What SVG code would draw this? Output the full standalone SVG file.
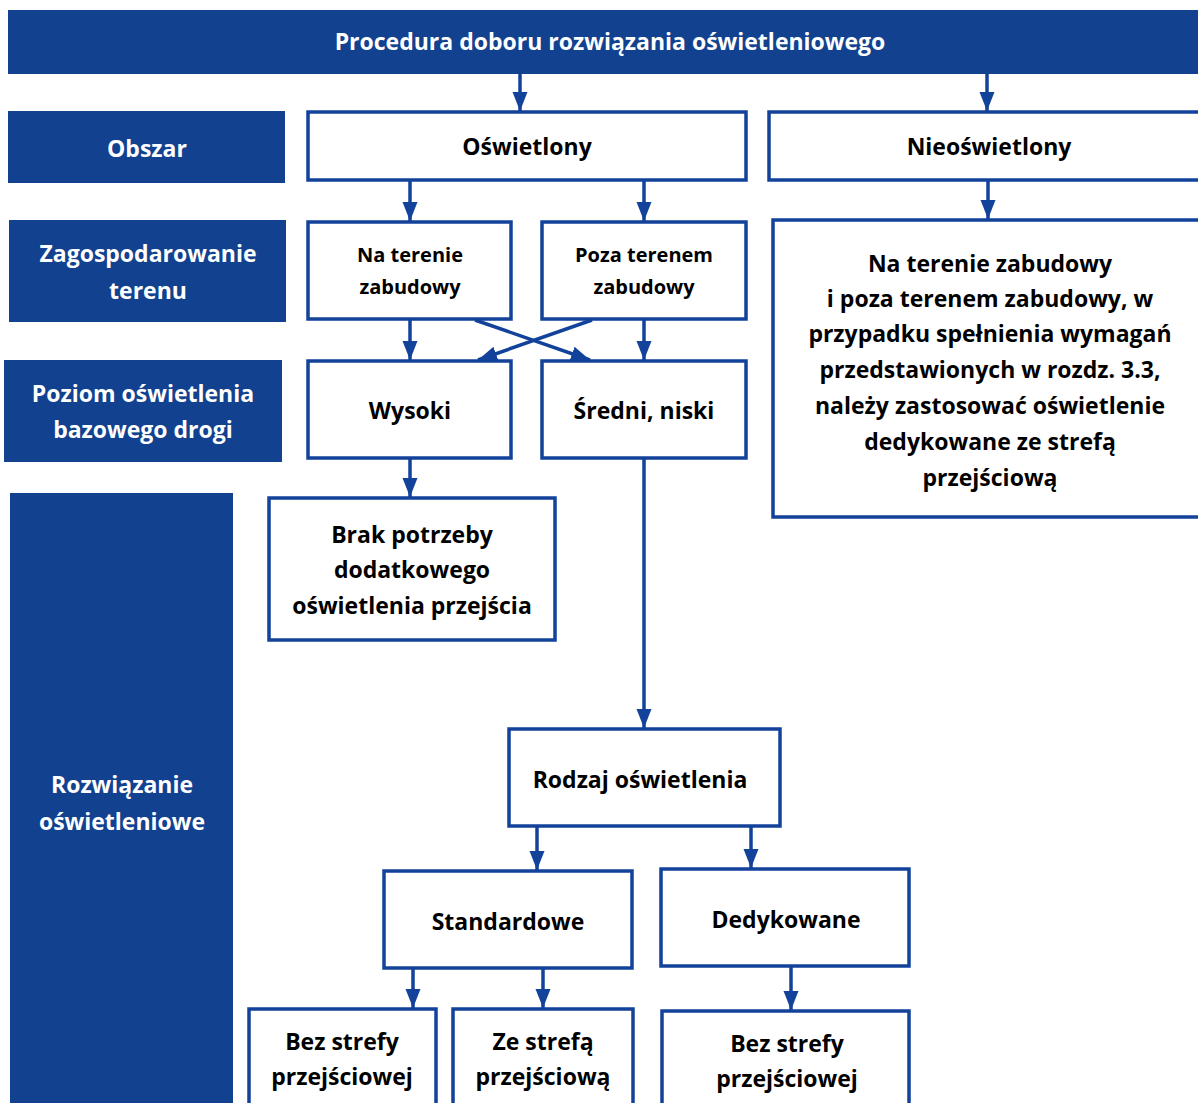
<svg xmlns="http://www.w3.org/2000/svg" width="1198" height="1103" viewBox="0 0 1198 1103">
<style>
.band{fill:#12418F}
.box{fill:#fff;stroke:#12429A;stroke-width:3.5}
.wt{fill:#fff;font-family:"Open Sans","Liberation Sans",sans-serif;font-weight:bold;font-size:23px;text-anchor:middle}
.bt{fill:#000;font-family:"Open Sans","Liberation Sans",sans-serif;font-weight:bold;font-size:23px;text-anchor:middle}
.sm{font-size:20px}
.conn line,.conn path{stroke:#12429A;stroke-width:3.5;fill:none}
</style>
<defs>
<marker id="ah" markerUnits="userSpaceOnUse" markerWidth="20" markerHeight="16" refX="19" refY="8" orient="auto">
<path d="M0,0.5 L19,8 L0,15.5 z" fill="#12429A"/>
</marker>
</defs>
<rect width="1198" height="1103" fill="#fff"/>
<g id="title"><rect class="band" x="8" y="10" width="1192" height="64"/><text class="wt" x="610" y="50">Procedura doboru rozwiązania oświetleniowego</text></g>
<g id="lbl-obszar"><rect class="band" x="8" y="111" width="277" height="72"/><text class="wt" x="147" y="157">Obszar</text></g>
<g id="lbl-zagosp"><rect class="band" x="9" y="220" width="277" height="102"/><text class="wt" x="148" y="262">Zagospodarowanie</text><text class="wt" x="148" y="299">terenu</text></g>
<g id="lbl-poziom"><rect class="band" x="4" y="360" width="278" height="102"/><text class="wt" x="143" y="402">Poziom oświetlenia</text><text class="wt" x="143" y="438">bazowego drogi</text></g>
<g id="lbl-rozw"><rect class="band" x="10" y="493" width="223" height="612"/><text class="wt" x="122" y="793">Rozwiązanie</text><text class="wt" x="122" y="830">oświetleniowe</text></g>

<g id="oswietlony"><rect class="box" x="308" y="112" width="438" height="68"/><text class="bt" x="527" y="155">Oświetlony</text></g>
<g id="nieoswietlony"><rect class="box" x="769" y="112" width="440" height="68"/><text class="bt" x="989" y="155">Nieoświetlony</text></g>
<g id="na-terenie"><rect class="box" x="308" y="222" width="203" height="97"/><text class="bt sm" x="410" y="262">Na terenie</text><text class="bt sm" x="410" y="294">zabudowy</text></g>
<g id="poza-terenem"><rect class="box" x="542" y="222" width="204" height="97"/><text class="bt sm" x="644" y="262">Poza terenem</text><text class="bt sm" x="644" y="294">zabudowy</text></g>
<g id="nieosw-opis"><rect class="box" x="773" y="220" width="436" height="297"/>
<text class="bt" x="990" y="272">Na terenie zabudowy</text>
<text class="bt" x="990" y="307">i poza terenem zabudowy, w</text>
<text class="bt" x="990" y="342">przypadku spełnienia wymagań</text>
<text class="bt" x="990" y="378">przedstawionych w rozdz. 3.3,</text>
<text class="bt" x="990" y="414">należy zastosować oświetlenie</text>
<text class="bt" x="990" y="450">dedykowane ze strefą</text>
<text class="bt" x="990" y="486">przejściową</text></g>
<g id="wysoki"><rect class="box" x="308" y="361" width="203" height="97"/><text class="bt" x="410" y="419">Wysoki</text></g>
<g id="sredni"><rect class="box" x="542" y="361" width="204" height="97"/><text class="bt" x="644" y="419">Średni, niski</text></g>
<g id="brak"><rect class="box" x="269" y="498" width="286" height="142"/><text class="bt" x="412" y="543">Brak potrzeby</text><text class="bt" x="412" y="578">dodatkowego</text><text class="bt" x="412" y="614">oświetlenia przejścia</text></g>
<g id="rodzaj"><rect class="box" x="509" y="729" width="271" height="97"/><text class="bt" x="640" y="788">Rodzaj oświetlenia</text></g>
<g id="standardowe"><rect class="box" x="384" y="871" width="248" height="97"/><text class="bt" x="508" y="930">Standardowe</text></g>
<g id="dedykowane"><rect class="box" x="661" y="869" width="248" height="97"/><text class="bt" x="786" y="928">Dedykowane</text></g>
<g id="bez-strefy-std"><rect class="box" x="249" y="1009" width="187" height="110"/><text class="bt" x="342" y="1050">Bez strefy</text><text class="bt" x="342" y="1085">przejściowej</text></g>
<g id="ze-strefa"><rect class="box" x="453" y="1009" width="180" height="110"/><text class="bt" x="543" y="1050">Ze strefą</text><text class="bt" x="543" y="1085">przejściową</text></g>
<g id="bez-strefy-ded"><rect class="box" x="662" y="1011" width="247" height="110"/><text class="bt" x="787" y="1052">Bez strefy</text><text class="bt" x="787" y="1087">przejściowej</text></g>

<g id="connectors" class="conn">
<line x1="520" y1="74" x2="520" y2="111" marker-end="url(#ah)"/>
<line x1="987" y1="74" x2="987" y2="111" marker-end="url(#ah)"/>
<line x1="410" y1="180" x2="410" y2="221" marker-end="url(#ah)"/>
<line x1="644" y1="180" x2="644" y2="221" marker-end="url(#ah)"/>
<line x1="988" y1="180" x2="988" y2="219" marker-end="url(#ah)"/>
<line x1="410" y1="319" x2="410" y2="360" marker-end="url(#ah)"/>
<line x1="644" y1="319" x2="644" y2="360" marker-end="url(#ah)"/>
<line x1="475" y1="320" x2="590" y2="360" marker-end="url(#ah)"/>
<line x1="592" y1="320" x2="478" y2="360" marker-end="url(#ah)"/>
<line x1="410" y1="458" x2="410" y2="497" marker-end="url(#ah)"/>
<line x1="644" y1="458" x2="644" y2="728" marker-end="url(#ah)"/>
<line x1="537" y1="826" x2="537" y2="870" marker-end="url(#ah)"/>
<line x1="751" y1="826" x2="751" y2="868" marker-end="url(#ah)"/>
<line x1="413" y1="968" x2="413" y2="1008" marker-end="url(#ah)"/>
<line x1="543" y1="968" x2="543" y2="1008" marker-end="url(#ah)"/>
<line x1="791" y1="966" x2="791" y2="1010" marker-end="url(#ah)"/>
</g>
</svg>
